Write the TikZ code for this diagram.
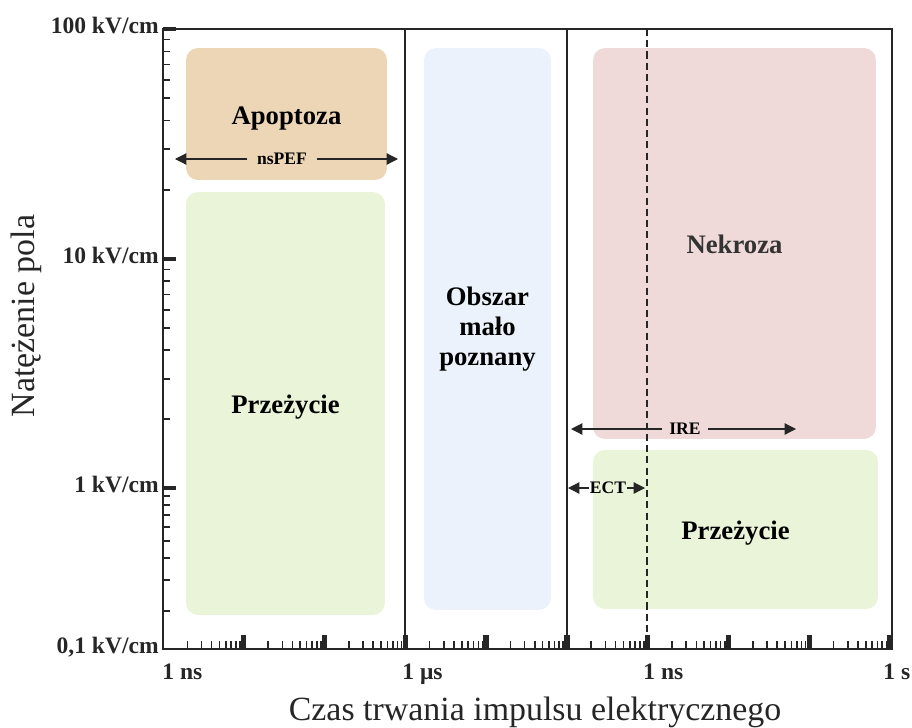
\documentclass[tikz,border=0pt]{standalone}
\usepackage{fontspec}
\setmainfont{Liberation Serif}
\usetikzlibrary{arrows.meta}

\definecolor{apocol}{HTML}{EDD6B6}
\definecolor{livecol}{HTML}{E9F4D9}
\definecolor{unkcol}{HTML}{EBF2FB}
\definecolor{necrocol}{HTML}{EFDAD9}

\begin{document}
\begin{tikzpicture}[x=0.02cm, y=-0.02cm,
	region/.style={rectangle, rounded corners=0.24cm, inner sep=0pt, align=center, font=\fontsize{15.2}{17}\selectfont\bfseries},
	oneline/.style={text height=1.16em, text depth=0pt},
	rangelabel/.style={inner sep=4pt, font=\fontsize{10}{12}\selectfont\bfseries},
	rangearrow/.style={-{Triangle[length=6.5pt,width=6.5pt]}, line width=0.7pt, draw=black!85},
	ticklabel/.style={inner xsep=0pt, font=\fontsize{13.4}{15}\selectfont\bfseries, text=black!85},
	axistitle/.style={font=\fontsize{19.3}{22}\selectfont, text=black!85},
	minortick/.style={line width=0.9pt, draw=black!85},
	majortick/.style={line width=3pt, draw=black!85}
	]
	\useasboundingbox (0,0) rectangle (912,727);

	% regions
	\node (apoptoza) [region, oneline, fill=apocol, minimum width=4.02cm, minimum height=2.64cm] at (286.5,114) {Apoptoza};
	\node (przezycieL) [region, oneline, fill=livecol, minimum width=3.98cm, minimum height=8.46cm] at (285.5,403.5) {Przeżycie};
	\node (obszar) [region, fill=unkcol, minimum width=2.54cm, minimum height=11.24cm] at (487.5,329) {Obszar\\mało\\poznany};
	\node (nekroza) [region, oneline, fill=necrocol, text=black!80, minimum width=5.66cm, minimum height=7.82cm] at (734.5,243.5) {Nekroza};
	\node (przezycieR) [region, oneline, fill=livecol, minimum width=5.70cm, minimum height=3.18cm] at (735.5,529.5) {Przeżycie};

	% frame and separators
	\draw [line width=1.6pt, draw=black!85] (163,29) rectangle (892,649);
	\draw [line width=1.2pt, draw=black!85] (405,29) -- (405,649);
	\draw [line width=1.2pt, draw=black!85] (567,29) -- (567,649);
	\draw [line width=1.4pt, draw=black!85, dash pattern=on 4pt off 2.4pt] (647,29) -- (647,635);

	% ticks
	\foreach \d in {0,...,8} {
		\foreach \k in {2,...,9}
			\draw [minortick] ({163+80.78*(\d+log10(\k))},649) -- ++(0,-8);
		\draw [majortick] ({163+80.78*(\d+1)},649) -- ++(0,-14);
	}
	\foreach \k in {2,...,9} {
		\draw [minortick] (163,{29+230*(1-log10(\k))}) -- ++(7,0);
		\draw [minortick] (163,{259+229*(1-log10(\k))}) -- ++(7,0);
		\draw [minortick] (163,{488+176*(1-log10(\k))}) -- ++(7,0);
	}
	\foreach \y in {29,259,488}
		\draw [line width=2.2pt, draw=black!85] (163,\y) -- ++(13,0);

	% tick labels
	\node (y100) [ticklabel, anchor=base east] at (159,33) {100 kV/cm};
	\node (y10) [ticklabel, anchor=base east] at (159,263) {10 kV/cm};
	\node (y1) [ticklabel, anchor=base east] at (159,492.5) {1 kV/cm};
	\node (y01) [ticklabel, anchor=base east] at (159,653.5) {0,1 kV/cm};
	\node (xns) [ticklabel, anchor=base west] at (162,679) {1 ns};
	\node (xus) [ticklabel, anchor=base west] at (402,679) {1 μs};
	\node (xms) [ticklabel, anchor=base west] at (643,679) {1 ns};
	\node (xs) [ticklabel, anchor=base west] at (883,679) {1 s};

	% axis titles
	\node (ytitle) [axistitle, rotate=90, anchor=base] at (34,316) {Natężenie pola};
	\node (xtitle) [axistitle, anchor=base] at (535,720) {Czas trwania impulsu elektrycznego};

	% ranges
	\node (nspef) [rangelabel, inner xsep=5.5pt] at (282,159) {nsPEF};
	\coordinate (nspefL) at (175,159);
	\coordinate (nspefR) at (398,159);
	\draw [rangearrow] (nspef) -- (nspefL);
	\draw [rangearrow] (nspef) -- (nspefR);

	\node (ire) [rangelabel, inner xsep=4pt] at (685,429) {IRE};
	\coordinate (ireL) at (571,429);
	\coordinate (ireR) at (796,429);
	\draw [rangearrow] (ire) -- (ireL);
	\draw [rangearrow] (ire) -- (ireR);

	\node (ect) [rangelabel, inner xsep=0.5pt] at (608,488) {ECT};
	\coordinate (ectL) at (568,488);
	\coordinate (ectR) at (645,488);
	\draw [rangearrow] (ect) -- (ectL);
	\draw [rangearrow] (ect) -- (ectR);

\end{tikzpicture}
\end{document}
